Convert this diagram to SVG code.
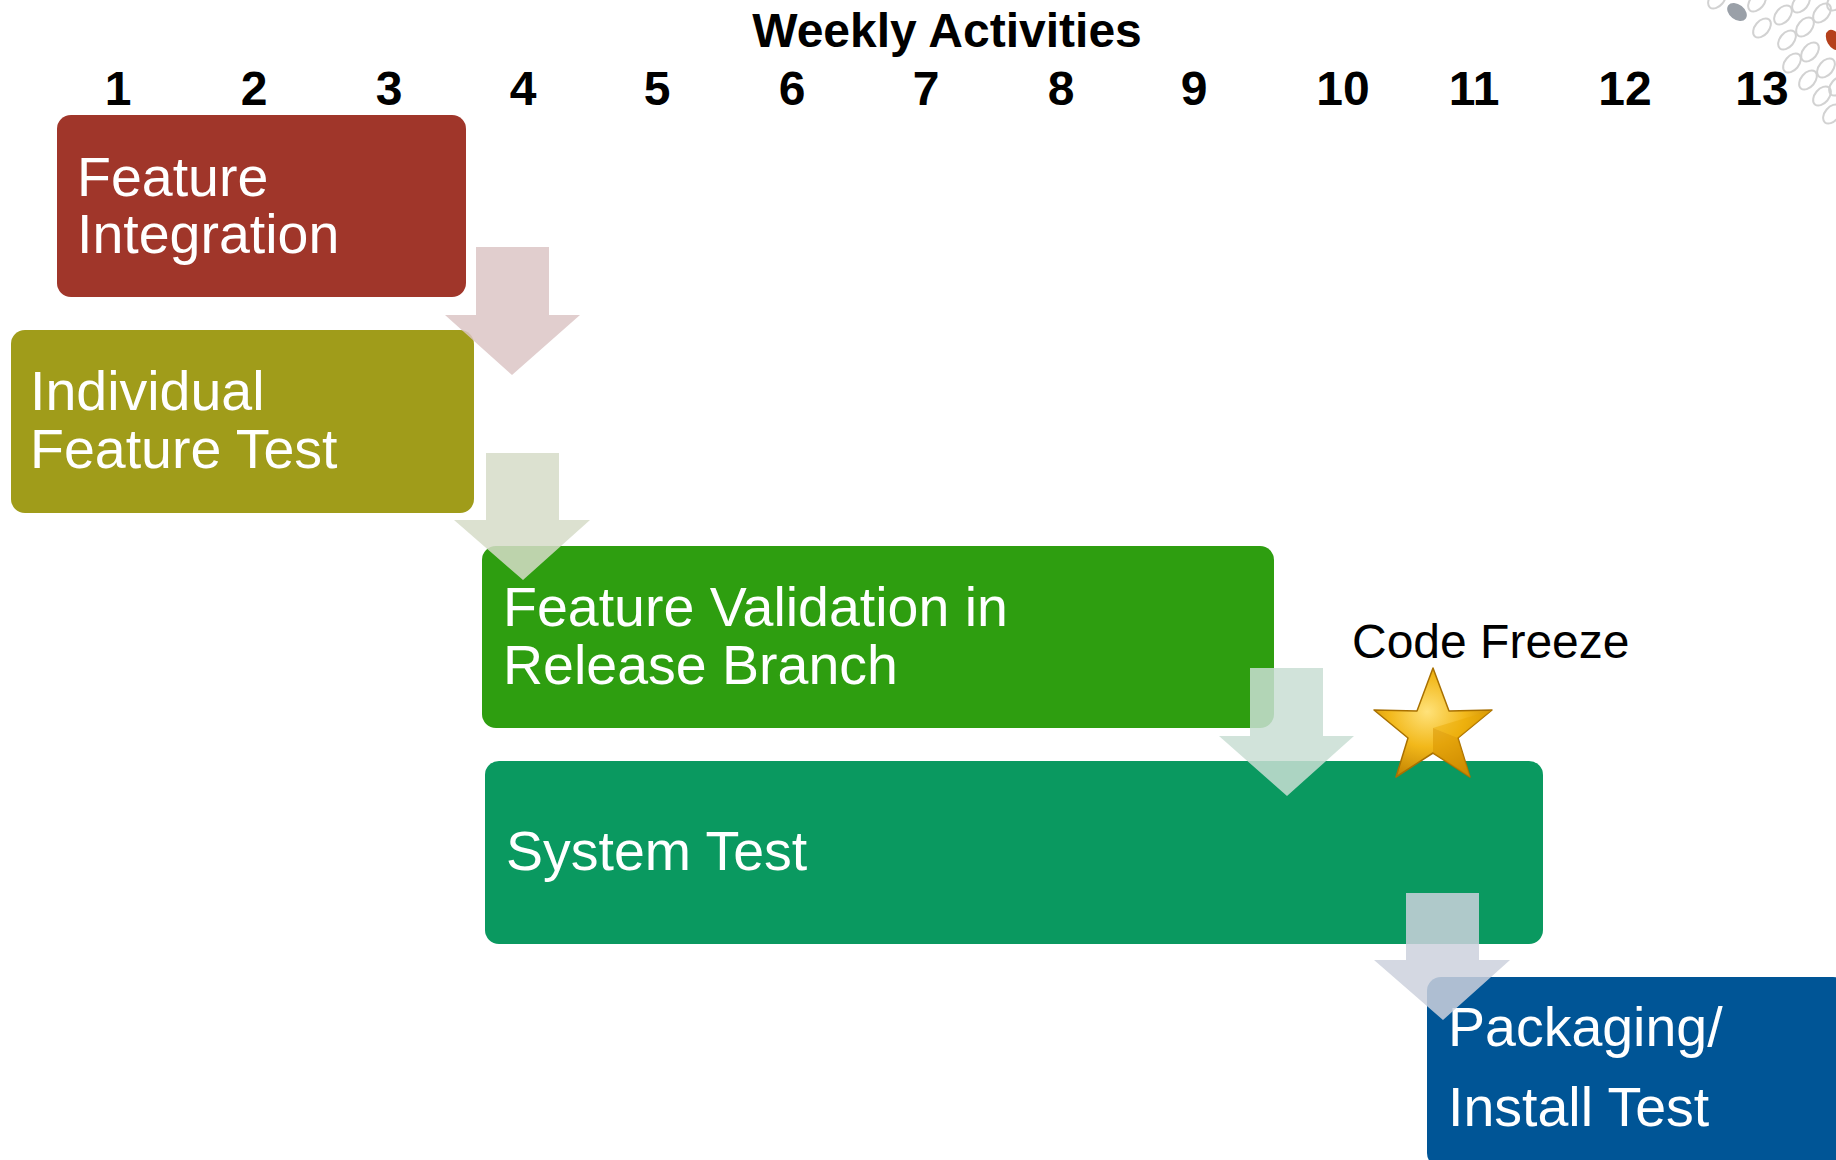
<svg xmlns="http://www.w3.org/2000/svg" width="1836" height="1160" viewBox="0 0 1836 1160">
<defs>
<style>
.box-label{font-family:"Liberation Sans",Arial,sans-serif;font-size:55.5px;fill:#ffffff}
.num{font-family:"Liberation Sans",Arial,sans-serif;font-size:48px;font-weight:bold;fill:#000000;text-anchor:middle}
.title{font-family:"Liberation Sans",Arial,sans-serif;font-size:48px;font-weight:bold;fill:#000000;text-anchor:middle}
.plain{font-family:"Liberation Sans",Arial,sans-serif;font-size:48px;fill:#000000}
.arrow{opacity:0.85}
.oval{fill:none;stroke:#d2d2d2;stroke-width:2}
</style>
<radialGradient id="gold" cx="0.45" cy="0.4" r="0.65">
<stop offset="0" stop-color="#FFE27A"/>
<stop offset="0.5" stop-color="#F2B81A"/>
<stop offset="1" stop-color="#C08000"/>
</radialGradient>
</defs>
<rect width="1836" height="1160" fill="#ffffff"/>

<g id="decoration">
<ellipse class="oval" cx="1717" cy="-1" rx="11" ry="7" transform="rotate(-50 1717 -1)"/>
<ellipse class="oval" cx="1757" cy="2" rx="11" ry="7" transform="rotate(-50 1757 2)"/>
<ellipse class="oval" cx="1762" cy="28" rx="11" ry="7" transform="rotate(-50 1762 28)"/>
<ellipse class="oval" cx="1783" cy="15" rx="11" ry="7" transform="rotate(-50 1783 15)"/>
<ellipse class="oval" cx="1801" cy="3" rx="11" ry="7" transform="rotate(-50 1801 3)"/>
<ellipse class="oval" cx="1787" cy="40" rx="11" ry="7" transform="rotate(-50 1787 40)"/>
<ellipse class="oval" cx="1805" cy="27" rx="11" ry="7" transform="rotate(-50 1805 27)"/>
<ellipse class="oval" cx="1822" cy="13" rx="11" ry="7" transform="rotate(-50 1822 13)"/>
<ellipse class="oval" cx="1836" cy="1" rx="11" ry="7" transform="rotate(-50 1836 1)"/>
<ellipse class="oval" cx="1792" cy="63" rx="11" ry="7" transform="rotate(-50 1792 63)"/>
<ellipse class="oval" cx="1810" cy="52" rx="11" ry="7" transform="rotate(-50 1810 52)"/>
<ellipse class="oval" cx="1808" cy="80" rx="11" ry="7" transform="rotate(-50 1808 80)"/>
<ellipse class="oval" cx="1826" cy="68" rx="11" ry="7" transform="rotate(-50 1826 68)"/>
<ellipse class="oval" cx="1822" cy="96" rx="11" ry="7" transform="rotate(-50 1822 96)"/>
<ellipse class="oval" cx="1838" cy="86" rx="11" ry="7" transform="rotate(-50 1838 86)"/>
<ellipse class="oval" cx="1832" cy="114" rx="11" ry="7" transform="rotate(-50 1832 114)"/>
<ellipse cx="1737" cy="12" rx="11" ry="7.5" transform="rotate(38 1737 12)" fill="#9aa0a8"/>
<ellipse cx="1834" cy="40" rx="7" ry="11" transform="rotate(-30 1834 40)" fill="#b5401c"/>
</g>

<g id="header">
<text class="title" x="947" y="47">Weekly Activities</text>
<text class="num" x="118" y="105">1</text>
<text class="num" x="254" y="105">2</text>
<text class="num" x="389" y="105">3</text>
<text class="num" x="523" y="105">4</text>
<text class="num" x="657" y="105">5</text>
<text class="num" x="792" y="105">6</text>
<text class="num" x="926" y="105">7</text>
<text class="num" x="1061" y="105">8</text>
<text class="num" x="1194" y="105">9</text>
<text class="num" x="1343" y="105">10</text>
<text class="num" x="1474" y="105">11</text>
<text class="num" x="1625" y="105">12</text>
<text class="num" x="1762" y="105">13</text>
</g>

<g id="feature-integration">
<rect x="57" y="115" width="409" height="182" rx="14" fill="#A0362A"/>
<text class="box-label" x="77" y="196">Feature</text>
<text class="box-label" x="77" y="253">Integration</text>
</g>

<g id="individual-feature-test">
<rect x="11" y="330" width="463" height="183" rx="14" fill="#A09C1A"/>
<text class="box-label" x="30" y="410">Individual</text>
<text class="box-label" x="30" y="468">Feature Test</text>
</g>

<g id="feature-validation">
<rect x="482" y="546" width="792" height="182" rx="14" fill="#2E9E10"/>
<text class="box-label" x="503" y="626">Feature Validation in</text>
<text class="box-label" x="503" y="684">Release Branch</text>
</g>

<g id="system-test">
<rect x="485" y="761" width="1058" height="183" rx="14" fill="#0A9960"/>
<text class="box-label" x="506" y="870">System Test</text>
</g>

<g id="packaging">
<rect x="1427" y="977" width="420" height="190" rx="14" fill="#005596"/>
<text class="box-label" x="1448" y="1046">Packaging/</text>
<text class="box-label" x="1448" y="1126">Install Test</text>
</g>

<g id="connectors">
<polygon class="arrow" fill="#DCC6C6" points="476,247 549,247 549,315 580,315 512,375 445,315 476,315"/>
<polygon class="arrow" fill="#D6DCC8" points="486,453 559,453 559,520 590,520 523,580 454,520 486,520"/>
<polygon class="arrow" fill="#C9DED3" points="1250,668 1323,668 1323,736 1354,736 1287,796 1219,736 1250,736"/>
<polygon class="arrow" fill="#CDD1DD" points="1406,893 1479,893 1479,960 1510,960 1443,1020 1374,960 1406,960"/>
</g>

<g id="code-freeze">
<text class="plain" x="1352" y="658">Code Freeze</text>
<polygon fill="url(#gold)" stroke="#A87000" stroke-width="1.5" stroke-linejoin="round" points="1433,668 1449,711 1492,710 1458,738 1470,777 1433,753 1396,777 1408,738 1374,710 1417,711"/>
<polygon fill="#D89400" opacity="0.55" points="1433,728 1458,738 1470,777 1433,753"/>
<polygon fill="#E8A800" opacity="0.45" points="1433,728 1492,710 1458,738"/>
</g>
</svg>
